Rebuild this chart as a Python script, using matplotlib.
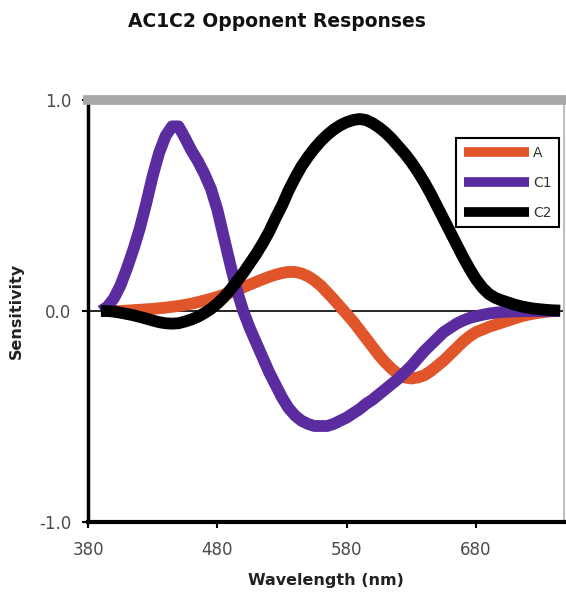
import matplotlib.pyplot as plt
import numpy as np

wavelength = list(range(390, 750, 5))
a_resp = [0.0, 0.0, 0.0, 0.0, 0.002, 0.004, 0.006, 0.008, 0.01, 0.013,
          0.016, 0.02, 0.024, 0.029, 0.035, 0.042, 0.05, 0.058, 0.067, 0.077,
          0.088, 0.1, 0.112, 0.125, 0.138, 0.15, 0.162, 0.172, 0.18, 0.185,
          0.185, 0.178, 0.165, 0.145, 0.12, 0.088, 0.055, 0.02, -0.015, -0.05,
          -0.09, -0.13, -0.17, -0.21, -0.245, -0.275, -0.3, -0.315, -0.32, -0.315,
          -0.305, -0.285, -0.26, -0.235, -0.205, -0.175, -0.145, -0.12, -0.1, -0.088,
          -0.075, -0.065, -0.055, -0.045, -0.035, -0.025, -0.018, -0.012, -0.007, -0.003,
          0.0, 0.0]
c1_resp = [0.0, 0.02, 0.06, 0.12, 0.2, 0.29, 0.39, 0.51, 0.64, 0.75,
           0.83, 0.875, 0.875, 0.82, 0.76, 0.71, 0.65, 0.58, 0.48, 0.35,
           0.22, 0.1, 0.0, -0.08, -0.15, -0.22, -0.29, -0.35, -0.41, -0.46,
           -0.495, -0.52, -0.535, -0.545, -0.545, -0.545, -0.535, -0.52, -0.505, -0.485,
           -0.465, -0.44, -0.42, -0.395, -0.37, -0.345, -0.32, -0.29, -0.26, -0.225,
           -0.19, -0.16, -0.13, -0.1, -0.08, -0.06, -0.045, -0.033, -0.025, -0.018,
           -0.012, -0.008, -0.005, -0.003, -0.002, -0.001, 0.0, 0.0, 0.0, 0.0,
           0.0, 0.0]
c2_resp = [0.0, 0.0, -0.003, -0.008, -0.014, -0.02, -0.028, -0.036, -0.045, -0.053,
           -0.058, -0.06, -0.058, -0.05, -0.04, -0.027, -0.01, 0.01, 0.035, 0.065,
           0.1, 0.14, 0.18, 0.225, 0.27, 0.32, 0.375, 0.44, 0.5, 0.57,
           0.63, 0.685, 0.73, 0.77, 0.805, 0.835, 0.86, 0.88, 0.895, 0.905,
           0.91, 0.905, 0.89, 0.87, 0.845, 0.815, 0.78, 0.745, 0.705, 0.66,
           0.61, 0.555, 0.495, 0.435, 0.375, 0.315, 0.255, 0.2, 0.15, 0.11,
           0.08, 0.062, 0.05, 0.04, 0.03, 0.022, 0.016, 0.011, 0.008, 0.005,
           0.003, 0.002]

xticks = [380, 480, 580, 680]
yticks = [-1.0, 0.0, 1.0]

fig = plt.figure(figsize=(5.66, 5.92), dpi=100)
ax = fig.add_axes([88/566, 1 - 522/592, (564-88)/566, (522-100)/592])

ax.axhline(0, color='black', lw=1.2, zorder=1)
style = dict(lw=8.5, solid_joinstyle='round', solid_capstyle='butt')
ax.plot(wavelength, a_resp, color='#e0552a', label='A', zorder=2, **style)
ax.plot(wavelength, c1_resp, color='#5a2ca0', label='C1', zorder=3, **style)
ax.plot(wavelength, c2_resp, color='black', label='C2', zorder=4, **style)

ax.set_xlim(380, 748)
ax.set_ylim(-1.0, 1.0)
ax.set_xticks(xticks)
ax.set_yticks(yticks)
ax.set_yticklabels([f"{v:.1f}" for v in yticks])

for s in ['left', 'bottom']:
    ax.spines[s].set_color('black')
ax.spines['left'].set_linewidth(2.5)
ax.spines['bottom'].set_linewidth(3)
ax.spines['top'].set_color('#a8a8a8')
ax.spines['top'].set_linewidth(7)
ax.spines['right'].set_color('#c0c0c0')
ax.spines['right'].set_linewidth(1.5)

ax.tick_params(axis='both', direction='out', length=4, width=1.5,
               labelsize=12, labelcolor='#4a4a4a')
ax.tick_params(axis='x', pad=10)
ax.tick_params(axis='y', pad=8)

ax.set_xlabel('Wavelength (nm)', fontsize=11.5, fontweight='bold', labelpad=10, color='#222222')
ax.set_ylabel('Sensitivity', fontsize=11.5, fontweight='bold', labelpad=11, color='#222222')
fig.text(0.489, 0.963, 'AC1C2 Opponent Responses', ha='center', va='center',
         fontsize=13.5, fontweight='bold', color='#111111')

leg = ax.legend(loc='upper right', bbox_to_anchor=(0.99, 0.91), fontsize=10,
                handlelength=4.7, handletextpad=0.3, labelspacing=1.15,
                borderpad=0.55, fancybox=False, framealpha=1, borderaxespad=0)
leg.get_frame().set_edgecolor('black')
leg.get_frame().set_linewidth(1.5)
for line in leg.get_lines():
    line.set_linewidth(7)
for t in leg.get_texts():
    t.set_color('#333333')

fig.savefig('out.png', dpi=100)
